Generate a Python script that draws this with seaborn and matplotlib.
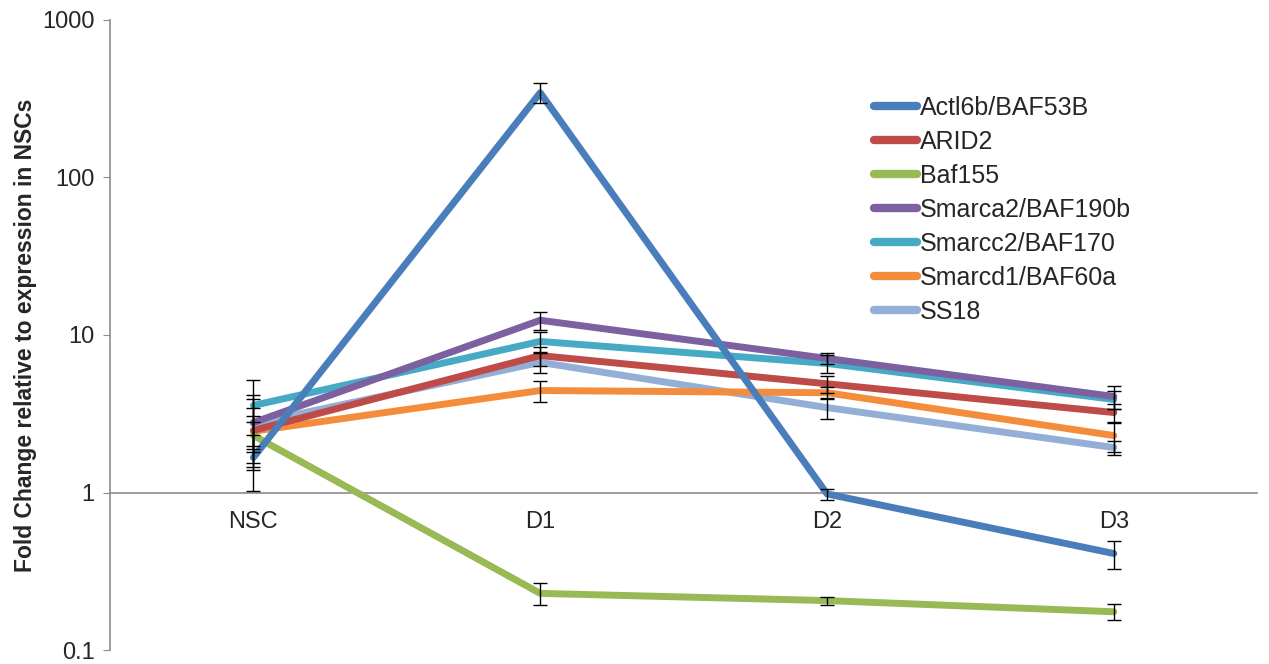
import matplotlib
matplotlib.use("Agg")
import matplotlib.pyplot as plt
import seaborn as sns
import pandas as pd

# Data
stages = ["NSC", "D1", "D2", "D3"]
genes = ["Actl6b/BAF53B", "ARID2", "Baf155", "Smarca2/BAF190b",
         "Smarcc2/BAF170", "Smarcd1/BAF60a", "SS18"]

actl6b = [1.67, 345.0, 0.98, 0.41]
arid2 = [2.48, 7.4, 4.9, 3.22]
baf155 = [2.30, 0.229, 0.206, 0.175]
smarca2 = [2.78, 12.4, 7.1, 4.07]
smarcc2 = [3.57, 9.1, 6.6, 3.9]
smarcd1 = [2.45, 4.44, 4.3, 2.3]
ss18 = [2.74, 6.7, 3.46, 1.93]

actl6b_err = [0.65, 50.0, 0.08, 0.085]
arid2_err = [0.6, 1.0, 0.6, 0.45]
baf155_err = [0.5, 0.036, 0.012, 0.02]
smarca2_err = [1.4, 1.6, 0.6, 0.7]
smarcc2_err = [1.6, 1.3, 0.9, 0.5]
smarcd1_err = [1.0, 0.7, 0.4, 0.5]
ss18_err = [1.2, 1.0, 0.55, 0.2]

colors = ["#4A7EBB", "#BE4B48", "#98B954", "#7D60A0",
          "#46AAC5", "#F38D3C", "#93AFD6"]

values = [actl6b, arid2, baf155, smarca2, smarcc2, smarcd1, ss18]
errors = [actl6b_err, arid2_err, baf155_err, smarca2_err,
          smarcc2_err, smarcd1_err, ss18_err]

rows = []
for g, vals, errs in zip(genes, values, errors):
    for i, (s, v, e) in enumerate(zip(stages, vals, errs)):
        rows.append({"gene": g, "stage": s, "pos": i, "fold": v, "err": e})
df = pd.DataFrame(rows)

sns.set_style("white")
plt.rcParams['font.family'] = ['Liberation Sans', 'DejaVu Sans']

fig = plt.figure(figsize=(12.69, 6.64), dpi=100)
ax = fig.add_axes([0.0867, 0.021, 0.904, 0.949])

palette = dict(zip(genes, colors))
sns.lineplot(data=df, x="pos", y="fold", hue="gene", hue_order=genes,
             palette=palette, linewidth=5, ax=ax, legend=False,
             solid_capstyle="round")
# first series drawn on top, like the original
for k, line in enumerate(ax.lines):
    line.set_zorder(3 + len(genes) - k)

for g, grp in df.groupby("gene", sort=False):
    ax.errorbar(grp["pos"], grp["fold"], yerr=grp["err"], fmt="none",
                ecolor="black", elinewidth=1.0, capsize=5, capthick=1.0,
                zorder=20)

ax.set_yscale("log")
ax.set_ylim(0.1, 1000)
ax.set_xlim(-0.5, 3.5)
ax.set_yticks([0.1, 1, 10, 100, 1000])
ax.set_yticklabels(["0.1", "1", "10", "100", "1000"])
ax.minorticks_off()
ax.set_xticks(range(len(stages)))
ax.set_xticklabels(stages)

ax.spines["top"].set_visible(False)
ax.spines["right"].set_visible(False)
ax.spines["bottom"].set_position(("data", 1))
ax.spines["bottom"].set_color("#8C8C8C")
ax.spines["left"].set_color("#8C8C8C")
ax.spines["bottom"].set_linewidth(1.2)
ax.spines["left"].set_linewidth(1.2)
ax.tick_params(axis="x", length=0, pad=13, labelsize=17)
ax.tick_params(axis="y", which="major", direction="out", length=5,
               color="#8C8C8C", labelsize=17, left=True, pad=6)

ax.set_xlabel("")
ax.set_ylabel("Fold Change relative to expression in NSCs",
              fontsize=16.5, fontweight="bold", labelpad=4)

handles = [plt.Line2D([0], [0], color=c, linewidth=6, solid_capstyle="round")
           for c in colors]
ax.legend(handles, genes, loc="upper left", bbox_to_anchor=(0.646, 0.915),
          frameon=False, fontsize=18, handlelength=1.75,
          handletextpad=0.1, labelspacing=0.4)

fig.savefig("out.png", dpi=100)
